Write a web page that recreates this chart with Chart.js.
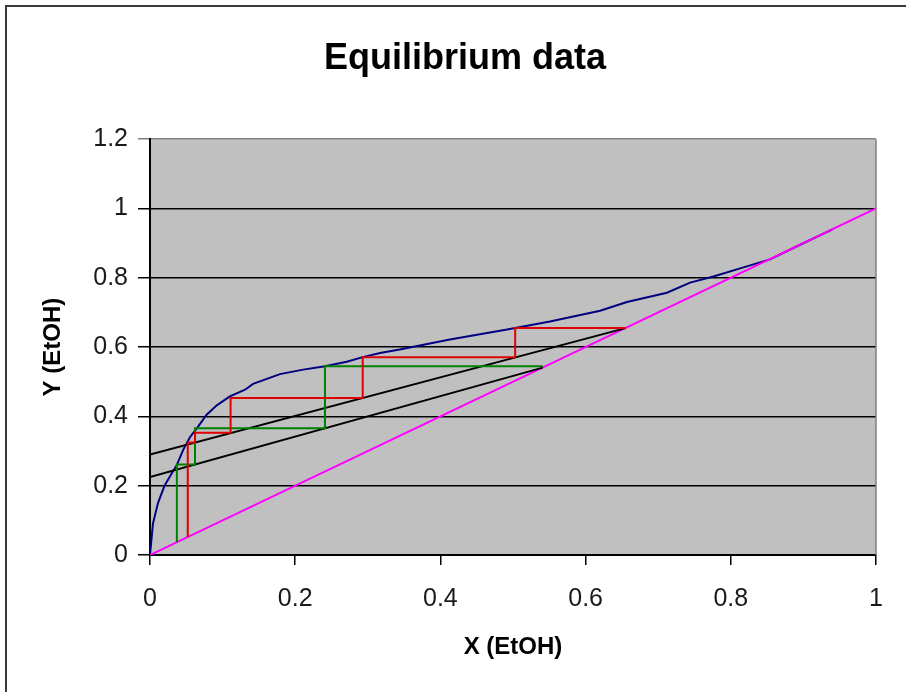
<!DOCTYPE html>
<html>
<head>
<meta charset="utf-8">
<title>Equilibrium data</title>
<script src="https://cdn.jsdelivr.net/npm/chart.js@4.4.1/dist/chart.umd.min.js"></script>
<style>
  html, body { margin: 0; padding: 0; background: #fff; }
  #wrap { width: 906px; height: 692px; }
</style>
</head>
<body>
<div id="wrap"><canvas id="eqChart" width="906" height="692"></canvas></div>
<script>
// equilibrium curve (blue)
const eqX = [0, 0.004, 0.011, 0.02, 0.03, 0.037, 0.046, 0.055, 0.066, 0.078, 0.092, 0.11, 0.131, 0.142, 0.179, 0.211, 0.241, 0.271, 0.293, 0.317, 0.344, 0.413, 0.49, 0.551, 0.62, 0.657, 0.712, 0.744, 0.776, 0.822, 0.854, 0.894, 0.94];
const eqY = [0, 0.09, 0.15, 0.2, 0.236, 0.26, 0.305, 0.34, 0.37, 0.405, 0.432, 0.458, 0.477, 0.494, 0.522, 0.535, 0.545, 0.558, 0.571, 0.583, 0.593, 0.622, 0.65, 0.674, 0.705, 0.73, 0.757, 0.786, 0.804, 0.833, 0.853, 0.894, 0.94];

// y = x line (magenta)
const diagX = [0, 1];
const diagY = [0, 1];

// operating lines (black)
const opUpperX = [0, 0.655];
const opUpperY = [0.29, 0.655];
const opLowerX = [0, 0.541];
const opLowerY = [0.225, 0.541];

// stage steps
const redX = [0.655, 0.503, 0.503, 0.293, 0.293, 0.111, 0.111, 0.062, 0.062, 0.052, 0.052];
const redY = [0.655, 0.655, 0.571, 0.571, 0.453, 0.453, 0.353, 0.353, 0.325, 0.325, 0.052];
const greenX = [0.541, 0.241, 0.241, 0.062, 0.062, 0.037, 0.037];
const greenY = [0.545, 0.545, 0.366, 0.366, 0.261, 0.261, 0.037];

const xTickLabels = ['0', '0.2', '0.4', '0.6', '0.8', '1'];
const yTickLabels = ['0', '0.2', '0.4', '0.6', '0.8', '1', '1.2'];

const pts = (xs, ys) => xs.map((x, i) => ({ x, y: ys[i] }));

const line = (label, xs, ys, color, width) => ({
  label,
  data: pts(xs, ys),
  showLine: true,
  borderColor: color,
  backgroundColor: color,
  borderWidth: width,
  pointRadius: 0,
  tension: 0,
});

const FONT = "'Liberation Sans', Arial, sans-serif";

const plotBg = {
  id: 'plotBg',
  beforeDraw(chart) {
    const { ctx, chartArea: a } = chart;
    ctx.save();
    ctx.fillStyle = '#c0c0c0';
    ctx.fillRect(a.left, a.top, a.right - a.left, a.bottom - a.top);
    ctx.restore();
  },
  afterDraw(chart) {
    const { ctx, chartArea: a } = chart;
    ctx.save();
    ctx.strokeStyle = '#808080';
    ctx.lineWidth = 1.5;
    ctx.beginPath();
    ctx.moveTo(a.right, a.top);
    ctx.lineTo(a.right, a.bottom);
    ctx.stroke();
    // outer frame
    ctx.strokeStyle = '#3a3a3a';
    ctx.lineWidth = 2;
    ctx.strokeRect(6, 6, 1200, 1200);
    ctx.restore();
  }
};

new Chart(document.getElementById('eqChart'), {
  type: 'scatter',
  data: {
    datasets: [
      line('Stages (upper)', redX, redY, '#e00000', 2),
      line('Stages (lower)', greenX, greenY, '#008000', 2),
      line('Operating line 1', opUpperX, opUpperY, '#000000', 1.8),
      line('Operating line 2', opLowerX, opLowerY, '#000000', 1.8),
      line('y = x', diagX, diagY, '#ff00ff', 2),
      line('Equilibrium', eqX, eqY, '#000080', 2),
    ],
  },
  options: {
    responsive: false,
    animation: false,
    devicePixelRatio: 1,
    layout: { padding: { left: 24, right: 0, top: 0, bottom: 0 } },
    plugins: {
      legend: { display: false },
      tooltip: { enabled: false },
      title: {
        display: true,
        text: 'Equilibrium data',
        color: '#000',
        font: { family: FONT, size: 36, weight: 'bold' },
        padding: { top: 37, bottom: 59 },
      },
    },
    scales: {
      x: {
        type: 'linear',
        min: 0,
        max: 1,
        afterFit: s => { s.height = 137; },
        ticks: {
          stepSize: 0.2,
          color: '#1a1a1a',
          padding: 19,
          font: { family: FONT, size: 25 },
          callback: (v, i) => xTickLabels[i],
        },
        grid: { drawOnChartArea: false, drawTicks: true, tickLength: 10, color: '#000', lineWidth: 1.5 },
        border: { color: '#000', width: 2 },
        title: {
          display: true,
          text: 'X (EtOH)',
          color: '#000',
          font: { family: FONT, size: 24, weight: 'bold' },
          padding: { top: 0, bottom: 30 },
        },
      },
      y: {
        type: 'linear',
        min: 0,
        max: 1.2,
        afterFit: s => { s.width = 126; },
        ticks: {
          stepSize: 0.2,
          color: '#1a1a1a',
          padding: 10,
          font: { family: FONT, size: 25 },
          callback: (v, i) => yTickLabels[i],
        },
        grid: {
          tickLength: 12,
          lineWidth: 1.5,
          color: c => (c.tick && c.tick.value > 1.1 ? '#808080' : '#000'),
        },
        border: { color: '#000', width: 2 },
        title: {
          display: true,
          text: 'Y (EtOH)',
          color: '#000',
          font: { family: FONT, size: 24, weight: 'bold' },
          padding: { top: 15, bottom: 0 },
        },
      },
      yR: {
        type: 'linear',
        position: 'right',
        afterFit: s => { s.width = 30; },
        ticks: { display: false },
        grid: { display: false },
        border: { display: false },
      },
    },
  },
  plugins: [plotBg],
});
</script>
</body>
</html>
